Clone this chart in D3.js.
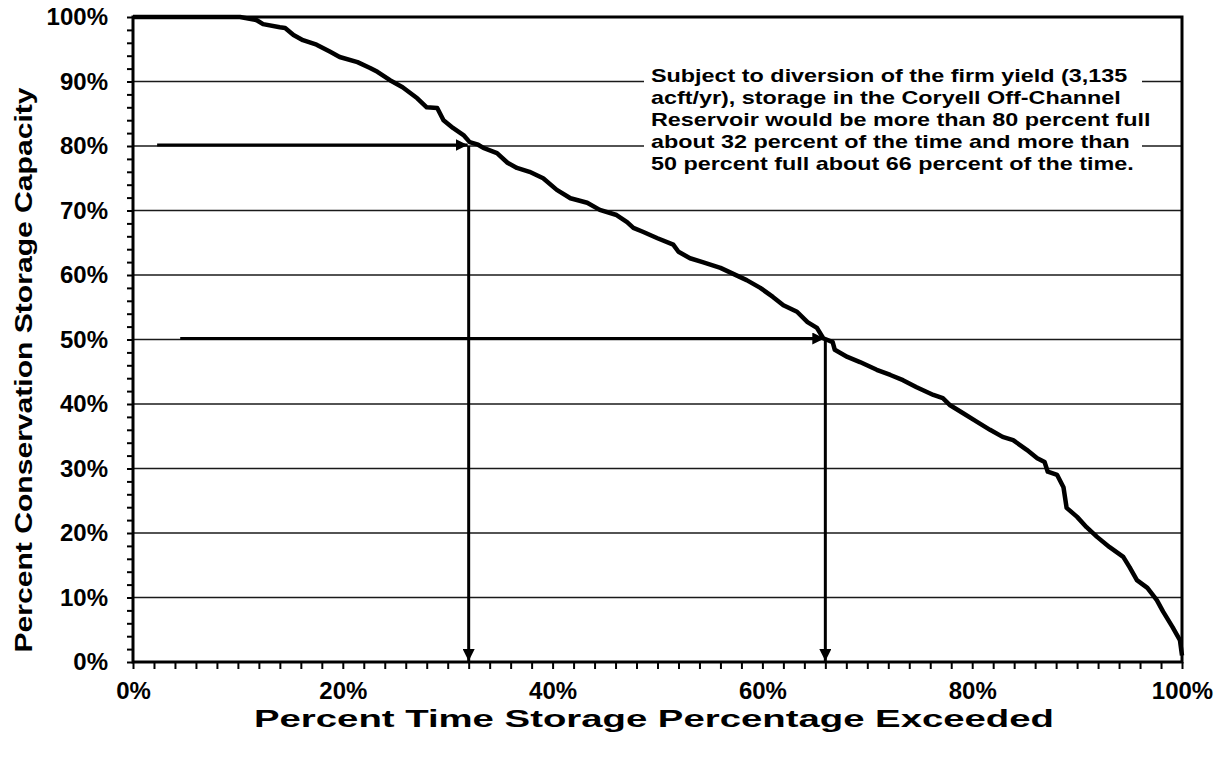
<!DOCTYPE html>
<html>
<head>
<meta charset="utf-8">
<script src="https://cdn.jsdelivr.net/npm/d3@7"></script>
<style>
  html, body { margin: 0; padding: 0; background: #fff; }
  svg { display: block; font-family: "Liberation Sans", Arial, Helvetica, sans-serif; }
  .tick text { font-weight: bold; font-size: 24px; fill: #000; }
  .tick line { stroke: #000; stroke-width: 2; }
</style>
</head>
<body>
<svg id="chart" width="1227" height="759"></svg>
<script>
// Storage frequency curve: percent of time (x) vs percent of conservation capacity (y)
const timeExceeded = [0, 10.2, 11.8, 12.4, 14.0, 14.5, 15.3, 16.2, 17.5, 18.8, 19.7, 21.4, 22.6, 23.3, 24.5, 25.7, 27.1, 28.0, 29.0, 29.6, 30.5, 31.5, 32.1, 32.9, 33.4, 34.7, 35.7, 36.6, 37.8, 39.1, 40.4, 41.7, 43.3, 44.5, 46.1, 47.1, 47.7, 48.6, 50.0, 51.5, 52.0, 53.1, 54.3, 56.0, 58.5, 59.8, 61.0, 62.0, 63.3, 64.3, 65.2, 65.8, 66.7, 66.9, 68.1, 69.3, 70.9, 72.2, 73.4, 74.7, 76.3, 77.2, 77.9, 79.1, 80.5, 81.7, 82.9, 83.9, 85.2, 86.2, 86.9, 87.2, 88.1, 88.7, 89.0, 90.0, 90.9, 91.9, 93.1, 94.4, 95.0, 95.7, 96.7, 97.6, 98.2, 99.1, 99.8, 100];
const storagePct = [100, 100, 99.5, 98.9, 98.4, 98.3, 97.2, 96.4, 95.7, 94.6, 93.8, 93.0, 92.1, 91.5, 90.2, 89.1, 87.4, 86.0, 85.9, 84.0, 82.8, 81.7, 80.6, 80.2, 79.7, 78.9, 77.4, 76.6, 76.0, 75.0, 73.2, 71.9, 71.2, 70.1, 69.3, 68.2, 67.3, 66.7, 65.7, 64.7, 63.6, 62.6, 62.0, 61.1, 59.2, 58.0, 56.6, 55.3, 54.3, 52.7, 51.8, 50.2, 49.6, 48.4, 47.3, 46.5, 45.3, 44.5, 43.7, 42.6, 41.4, 40.9, 39.8, 38.6, 37.2, 36.0, 34.9, 34.4, 32.9, 31.6, 31.0, 29.5, 29.0, 27.1, 23.9, 22.5, 20.9, 19.4, 17.8, 16.3, 14.7, 12.7, 11.5, 9.6, 7.8, 5.4, 3.4, 1.0];

// Tick values
const xMajorTicks = [0, 20, 40, 60, 80, 100];
const yMajorTicks = [0, 10, 20, 30, 40, 50, 60, 70, 80, 90, 100];

// Reference arrows: start x, storage level, exceedance percent
const arrowStartX = [2.3, 4.5];
const arrowLevelY = [80, 50];
const arrowTimeX = [32, 66];

const noteLines = [
  "Subject to diversion of the firm yield (3,135",
  "acft/yr), storage in the Coryell Off-Channel",
  "Reservoir would be more than 80 percent full",
  "about 32 percent of the time and more than",
  "50 percent full about 66 percent of the time."
];

const xTitle = "Percent Time Storage Percentage Exceeded";
const yTitle = "Percent Conservation Storage Capacity";

const svg = d3.select("#chart");
const plotLeft = 133, plotRight = 1182, plotTop = 17, plotBottom = 662;

const x = d3.scaleLinear().domain([0, 100]).range([plotLeft, plotRight]);
const y = d3.scaleLinear().domain([0, 100]).range([plotBottom, plotTop]);
const pct = d => d + "%";

// Horizontal gridlines
svg.append("g").selectAll("line")
  .data(yMajorTicks.filter(v => v > 0 && v < 100))
  .join("line")
  .attr("x1", plotLeft).attr("x2", plotRight)
  .attr("y1", d => y(d)).attr("y2", d => y(d))
  .attr("stroke", "#1a1a1a").attr("stroke-width", 1.4);

// White panel behind the note
svg.append("rect")
  .attr("x", 644).attr("y", 61)
  .attr("width", 498).attr("height", 115)
  .attr("fill", "#fff");

// Note text, set slightly wide
const noteX = 651, noteStretch = 1.23;
const note = svg.append("text")
  .attr("transform", `translate(${noteX},0) scale(${noteStretch},1)`)
  .attr("font-size", 19).attr("font-weight", "bold").attr("fill", "#000");
note.selectAll("tspan").data(noteLines).join("tspan")
  .attr("x", 0)
  .attr("y", (d, i) => 82 + i * 21.9)
  .text(d => d);

// Y axis with minor ticks every 2%
svg.append("g")
  .attr("transform", `translate(${plotLeft},0)`)
  .call(d3.axisLeft(y)
    .tickValues(d3.range(0, 101, 2))
    .tickSize(6)
    .tickPadding(19)
    .tickFormat(d => d % 10 === 0 ? pct(d) : ""))
  .call(g => g.select(".domain").remove());

// X axis with minor ticks every 2%
svg.append("g")
  .attr("transform", `translate(0,${plotBottom})`)
  .call(d3.axisBottom(x)
    .tickValues(d3.range(0, 101, 2))
    .tickSize(7)
    .tickPadding(13)
    .tickFormat(d => xMajorTicks.includes(d) ? pct(d) : ""))
  .call(g => g.select(".domain").remove());

// Plot frame
svg.append("rect")
  .attr("x", plotLeft).attr("y", plotTop)
  .attr("width", plotRight - plotLeft).attr("height", plotBottom - plotTop)
  .attr("fill", "none").attr("stroke", "#000").attr("stroke-width", 3);

// Arrow marker
const defs = svg.append("defs");
defs.append("marker")
  .attr("id", "head")
  .attr("viewBox", "0 0 10 10")
  .attr("refX", 10).attr("refY", 5)
  .attr("markerWidth", 4).attr("markerHeight", 4)
  .attr("markerUnits", "strokeWidth")
  .attr("orient", "auto")
  .append("path").attr("d", "M0,0L10,5L0,10Z").attr("fill", "#000");

arrowLevelY.forEach((lvl, i) => {
  svg.append("line")
    .attr("x1", x(arrowStartX[i])).attr("x2", x(arrowTimeX[i]) - 1)
    .attr("y1", y(lvl) - 1).attr("y2", y(lvl) - 1)
    .attr("stroke", "#000").attr("stroke-width", 3)
    .attr("marker-end", "url(#head)");
  svg.append("line")
    .attr("x1", x(arrowTimeX[i])).attr("x2", x(arrowTimeX[i]))
    .attr("y1", y(lvl)).attr("y2", y(0) - 1)
    .attr("stroke", "#000").attr("stroke-width", 3)
    .attr("marker-end", "url(#head)");
});

// Frequency curve
const pts = timeExceeded.map((t, i) => [t, storagePct[i]]);
svg.append("path")
  .datum(pts)
  .attr("fill", "none")
  .attr("stroke", "#000")
  .attr("stroke-width", 4.5)
  .attr("stroke-linejoin", "round")
  .attr("d", d3.line().x(d => x(d[0])).y(d => y(d[1])));

// Axis titles
svg.append("text")
  .attr("x", 654).attr("y", 727)
  .attr("text-anchor", "middle")
  .attr("font-size", 24).attr("font-weight", "bold")
  .attr("textLength", 800).attr("lengthAdjust", "spacingAndGlyphs")
  .text(xTitle);

svg.append("text")
  .attr("transform", `translate(32,370) rotate(-90)`)
  .attr("text-anchor", "middle")
  .attr("font-size", 23).attr("font-weight", "bold")
  .attr("textLength", 565).attr("lengthAdjust", "spacingAndGlyphs")
  .text(yTitle);
</script>
</body>
</html>
